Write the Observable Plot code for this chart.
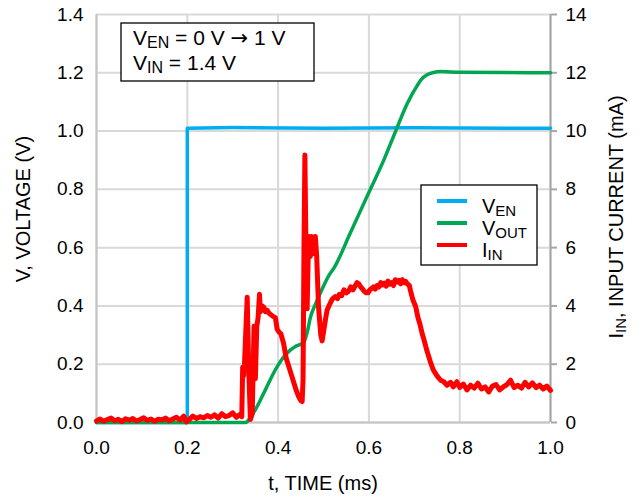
<!DOCTYPE html>
<html>
<head>
<meta charset="utf-8">
<script src="https://cdn.jsdelivr.net/npm/d3@7"></script>
<script src="https://cdn.jsdelivr.net/npm/@observablehq/plot@0.6"></script>
<style>
  html, body { margin: 0; padding: 0; background: #fff; }
  svg { display: block; }
</style>
</head>
<body>
<div id="chart"></div>
<script>
// ---------- tick labels ----------
const timeTicks = [0, 0.2, 0.4, 0.6, 0.8, 1.0];
const voltTicks = [0, 0.2, 0.4, 0.6, 0.8, 1.0, 1.2, 1.4];
const currentTicks = [0, 2, 4, 6, 8, 10, 12, 14];
const mAPerVolt = 10; // right axis: 14 mA spans the same height as 1.4 V

// ---------- V_EN (V) ----------
const venTime = [0, 0.2, 0.2, 0.3, 0.5, 0.7, 0.9, 1.0];
const venVolt = [0, 0, 1.01, 1.012, 1.01, 1.011, 1.01, 1.01];

// ---------- V_OUT (V) ----------
const voutTime = [0, 0.328, 0.34, 0.35, 0.372, 0.394, 0.416, 0.438, 0.449, 0.457, 0.465, 0.471, 0.482, 0.493, 0.512, 0.523, 0.559, 0.596, 0.633, 0.659, 0.684, 0.706, 0.716, 0.728, 0.742, 0.758, 0.8, 0.9, 1.0];
const voutVolt = [0, 0, 0.02, 0.044, 0.112, 0.181, 0.232, 0.261, 0.268, 0.276, 0.315, 0.36, 0.405, 0.444, 0.505, 0.53, 0.65, 0.776, 0.901, 1.0, 1.093, 1.155, 1.178, 1.193, 1.201, 1.204, 1.202, 1.201, 1.2];

// ---------- I_IN (mA) ----------
const iinTime = [
  0.000, 0.008, 0.016, 0.024, 0.032, 0.040, 0.048, 0.056, 0.064, 0.072,
  0.080, 0.088, 0.096, 0.104, 0.112, 0.120, 0.128, 0.136, 0.144, 0.152,
  0.160, 0.168, 0.176, 0.184, 0.192, 0.198, 0.204, 0.212, 0.220, 0.228,
  0.236, 0.244, 0.252, 0.260, 0.268, 0.276, 0.284, 0.292, 0.300, 0.308,
  0.316, 0.320, 0.322, 0.324, 0.326, 0.329, 0.332, 0.335, 0.339, 0.343,
  0.347, 0.350, 0.353, 0.356, 0.359, 0.361, 0.365, 0.369, 0.372, 0.376,
  0.380, 0.384, 0.388, 0.394, 0.398, 0.402, 0.406, 0.412, 0.418, 0.424,
  0.430, 0.435, 0.440, 0.445, 0.450, 0.453, 0.455, 0.457, 0.459, 0.461,
  0.464, 0.466, 0.468, 0.471, 0.474, 0.478, 0.482, 0.485, 0.489, 0.494,
  0.497, 0.501, 0.505, 0.508, 0.512, 0.515, 0.520, 0.526, 0.531, 0.535,
  0.540, 0.545, 0.550, 0.555, 0.560, 0.565, 0.570, 0.574, 0.578, 0.582,
  0.586, 0.590, 0.594, 0.598, 0.602, 0.606, 0.610, 0.614, 0.618, 0.622,
  0.626, 0.630, 0.634, 0.638, 0.642, 0.646, 0.650, 0.654, 0.658, 0.662,
  0.666, 0.670, 0.674, 0.678, 0.681, 0.685, 0.689, 0.692, 0.697, 0.703,
  0.708, 0.712, 0.717, 0.722, 0.728, 0.735, 0.742, 0.750, 0.758, 0.765,
  0.772, 0.780, 0.786, 0.794, 0.800, 0.808, 0.816, 0.824, 0.832, 0.840,
  0.848, 0.856, 0.864, 0.872, 0.880, 0.888, 0.896, 0.904, 0.912, 0.920,
  0.928, 0.936, 0.944, 0.952, 0.960, 0.968, 0.976, 0.984, 0.992, 1.000
];
const iinMA = [
  0.05, 0.12, 0.04, 0.10, 0.15, 0.06, 0.11, 0.03, 0.13, 0.08,
  0.14, 0.05, 0.10, 0.16, 0.07, 0.12, 0.04, 0.11, 0.09, 0.15,
  0.06, 0.12, 0.18, 0.08, 0.22, 0.02, 0.10, 0.22, 0.14, 0.20,
  0.16, 0.24, 0.18, 0.26, 0.15, 0.30, 0.20, 0.24, 0.33, 0.18,
  0.28, 0.20, 1.90, 1.60, 2.00, 3.20, 4.30, 2.00, 0.10, 0.30,
  3.30, 1.50, 3.30, 3.60, 4.40, 3.80, 4.00, 3.95, 3.80, 3.85,
  3.75, 3.70, 3.65, 3.60, 3.20, 3.10, 3.05, 2.72, 2.20, 1.90,
  1.60, 1.35, 1.10, 0.90, 0.75, 0.72, 1.50, 6.00, 9.18, 6.50,
  3.90, 5.50, 6.38, 5.70, 6.38, 5.80, 6.38, 5.70, 3.98, 3.00,
  2.80, 3.20, 3.60, 3.86, 4.00, 4.10, 4.25, 4.32, 4.25, 4.40,
  4.35, 4.55, 4.45, 4.50, 4.65, 4.55, 4.70, 4.80, 4.75, 4.65,
  4.58, 4.50, 4.45, 4.45, 4.55, 4.60, 4.65, 4.58, 4.70, 4.65,
  4.80, 4.72, 4.78, 4.68, 4.85, 4.75, 4.80, 4.70, 4.90, 4.82,
  4.88, 4.76, 4.90, 4.80, 4.84, 4.75, 4.70, 4.50, 4.20, 3.98,
  3.60, 3.40, 3.07, 2.80, 2.45, 2.10, 1.80, 1.60, 1.45, 1.40,
  1.28, 1.38, 1.22, 1.40, 1.20, 1.32, 1.12, 1.28, 1.18, 1.35,
  1.15, 1.22, 1.05, 1.25, 1.30, 1.12, 1.22, 1.30, 1.45, 1.20,
  1.28, 1.18, 1.38, 1.22, 1.36, 1.20, 1.28, 1.15, 1.25, 1.10
];

// ---------- series colours ----------
const colorEN = "#00aeef";
const colorOUT = "#00a651";
const colorIN = "#ff0000";

const venData = venTime.map((t, i) => ({t, v: venVolt[i]}));
const voutData = voutTime.map((t, i) => ({t, v: voutVolt[i]}));
const iinData = iinTime.map((t, i) => ({t, v: iinMA[i] / mAPerVolt}));

const font = "'Liberation Sans', Arial, Helvetica, sans-serif";

const chart = Plot.plot({
  width: 641,
  height: 497,
  marginLeft: 96,
  marginRight: 91,
  marginTop: 14,
  marginBottom: 75,
  style: {fontFamily: font, fontSize: "19px", color: "#000", background: "#fff"},
  x: {domain: [0, 1]},
  y: {domain: [0, 1.4]},
  marks: [
    Plot.gridX(timeTicks, {stroke: "#d9d9d9", strokeOpacity: 1, strokeWidth: 2}),
    Plot.gridY(voltTicks, {stroke: "#d9d9d9", strokeOpacity: 1, strokeWidth: 2}),
    Plot.ruleX([0], {stroke: "#c4c4c4", strokeWidth: 2}),
    Plot.ruleY([0], {stroke: "#c4c4c4", strokeWidth: 2}),
    Plot.ruleX([1], {stroke: "#a6a6a6", strokeWidth: 2}),
    Plot.axisX(timeTicks, {tickSize: 0, tickPadding: 18, tickFormat: d => d.toFixed(1), label: null}),
    Plot.axisY(voltTicks, {tickSize: 0, tickPadding: 13, tickFormat: d => d.toFixed(1), label: null}),
    Plot.axisY(currentTicks.map(c => c / mAPerVolt), {anchor: "right", tickSize: 6, tickPadding: 9, stroke: "#a6a6a6", strokeWidth: 2, fill: "#000", tickFormat: d => String(Math.round(d * mAPerVolt)), label: null}),
    Plot.line(venData, {x: "t", y: "v", stroke: colorEN, strokeWidth: 3.5}),
    Plot.line(voutData, {x: "t", y: "v", stroke: colorOUT, strokeWidth: 3.5, curve: "monotone-x"}),
    Plot.line(iinData, {x: "t", y: "v", stroke: colorIN, strokeWidth: 5, strokeLinejoin: "round"})
  ]
});

document.getElementById("chart").appendChild(chart);

// ---------- titles, annotation and legend ----------
const svg = d3.select(chart);
const g = svg.append("g").attr("font-family", font).attr("fill", "#000").attr("text-anchor", "start");

function subText(parent, x, y, parts, size, subSize, anchor) {
  const t = parent.append("text").attr("x", x).attr("y", y).attr("font-size", size)
    .attr("text-anchor", anchor || "start");
  parts.forEach(p => {
    const s = t.append("tspan").text(p.text);
    if (p.sub) s.attr("font-size", subSize).attr("baseline-shift", "-18%");
    if (p.family) s.attr("font-family", p.family);
  });
  return t;
}

// axis titles
g.append("text").attr("x", 323).attr("y", 490).attr("text-anchor", "middle")
  .attr("font-size", 20).text("t, TIME (ms)");
g.append("text").attr("transform", "translate(30,209) rotate(-90)").attr("text-anchor", "middle")
  .attr("font-size", 20).text("V, VOLTAGE (V)");
subText(g.append("g").attr("transform", "translate(623,217) rotate(-90)"), 0, 0,
  [{text: "I"}, {text: "IN", sub: true}, {text: ", INPUT CURRENT (mA)"}], 20, 15, "middle");

// annotation box
g.append("rect").attr("x", 121).attr("y", 23).attr("width", 193).attr("height", 58)
  .attr("fill", "#fff").attr("stroke", "#000").attr("stroke-width", 1.3);
subText(g, 133, 45, [{text: "V"}, {text: "EN", sub: true}, {text: " = 0 V "},
  {text: "\u2192", family: "'DejaVu Sans', sans-serif"}, {text: " 1 V"}], 21, 16);
subText(g, 133, 70, [{text: "V"}, {text: "IN", sub: true}, {text: " = 1.4 V"}], 21, 16);

// legend
g.append("rect").attr("x", 421).attr("y", 185).attr("width", 116).attr("height", 80)
  .attr("fill", "#fff").attr("stroke", "#000").attr("stroke-width", 1.3);
const legendItems = [
  {color: colorEN, label: "EN"},
  {color: colorOUT, label: "OUT"},
  {color: colorIN, label: "IN", main: "I"}
];
legendItems.forEach((it, i) => {
  const y = 201 + i * 22;
  g.append("line").attr("x1", 437).attr("x2", 467).attr("y1", y).attr("y2", y)
    .attr("stroke", it.color).attr("stroke-width", 4);
  subText(g, 482, y + 12, [{text: it.main || "V"}, {text: it.label, sub: true}], 20, 15);
});
</script>
</body>
</html>
